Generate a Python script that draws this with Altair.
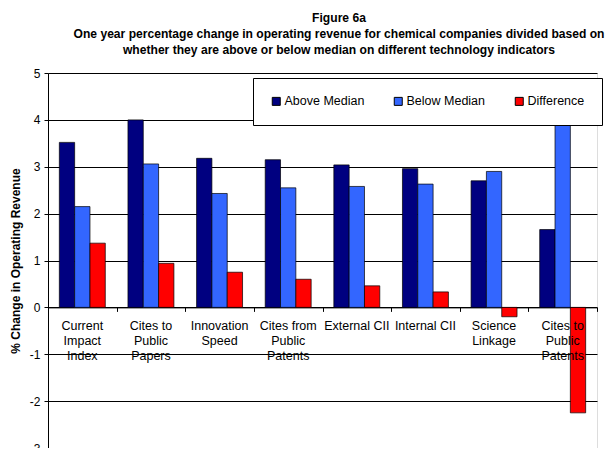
import altair as alt
import pandas as pd

categories = ["Current Impact Index", "Cites to Public Papers", "Innovation Speed",
              "Cites from Public Patents", "External CII", "Internal CII",
              "Science Linkage", "Cites to Public Patents"]
labels = ["Current|Impact|Index", "Cites to|Public|Papers", "Innovation|Speed",
          "Cites from|Public|Patents", "External CII", "Internal CII",
          "Science|Linkage", "Cites to|Public|Patents"]
series = ["Above Median", "Below Median", "Difference"]
above = [3.52, 4.00, 3.18, 3.15, 3.04, 2.96, 2.70, 1.66]
below = [2.15, 3.06, 2.43, 2.55, 2.58, 2.63, 2.90, 3.91]
diff = [1.37, 0.94, 0.75, 0.60, 0.46, 0.33, -0.20, -2.25]
colors = ["#000080", "#3366FF", "#FF0000"]
y_ticks = [-3, -2, -1, 0, 1, 2, 3, 4, 5]

rows = []
for i, c in enumerate(categories):
    for s, vals in zip(series, [above, below, diff]):
        rows.append({"Category": c, "Series": s, "Value": vals[i]})
df = pd.DataFrame(rows)
lab_df = pd.DataFrame({"Category": categories, "Label": labels})

FONT = "Liberation Sans"

x_enc = alt.X(
    "Category:N", sort=categories,
    scale=alt.Scale(paddingInner=0, paddingOuter=0),
    axis=alt.Axis(title=None, labels=False, tickBand="extent", offset=-140.625,
                  domainColor="black", tickColor="black", tickSize=4, grid=False),
)
y_scale = alt.Scale(domain=[-3, 5], nice=False, zero=False)

text_layer = alt.Chart(lab_df).mark_text(
    lineBreak="|", baseline="middle", dy=18.5, fontSize=12.5, lineHeight=15.3,
    font=FONT, color="black",
).encode(
    x=x_enc,
    y=alt.datum(0, scale=y_scale),
    text="Label:N",
)

bars = alt.Chart(df).mark_bar(stroke="black", strokeWidth=0.7).encode(
    x=x_enc,
    xOffset=alt.XOffset("Series:N", sort=series,
                        scale=alt.Scale(paddingOuter=0.74, paddingInner=0)),
    y=alt.Y("Value:Q", scale=y_scale,
            axis=alt.Axis(values=y_ticks, title="% Change in Operating Revenue",
                          grid=True, titleFontSize=12, titleFontWeight="bold",
                          titleColor="black", titleFont=FONT, labelFont=FONT,
                          labelFontSize=12, labelColor="black", tickSize=4,
                          tickColor="black", domainColor="black", gridColor="black",
                          gridWidth=1, gridOpacity=1, labelPadding=4, titlePadding=7,
                          labelExpr="datum.value + ''")),
    color=alt.Color("Series:N", sort=series,
                    scale=alt.Scale(domain=series, range=colors),
                    legend=alt.Legend(title=None, orient="none", legendX=205, legendY=5,
                                      direction="horizontal", fillColor="white",
                                      strokeColor="black", padding=17,
                                      symbolType="square", symbolSize=64,
                                      symbolStrokeColor="black", symbolStrokeWidth=1,
                                      symbolOpacity=1, labelFontSize=12.5,
                                      labelColor="black", labelFont=FONT,
                                      columnPadding=27, labelOffset=2)),
)

chart = alt.layer(bars, text_layer).properties(
    width=549, height=375,
    autosize=alt.AutoSizeParams(type="none"),
    padding={"left": 40, "top": 65, "right": 9, "bottom": 0},
    title=alt.TitleParams(
        text=["Figure 6a",
              "One year percentage change in operating revenue for chemical companies divided based on",
              "whether they are above or below median on different technology indicators"],
        fontSize=12.1, fontWeight="bold", anchor="middle", dx=16.5, lineHeight=16.2,
        offset=11, color="black", font=FONT,
    ),
).configure_view(stroke="#808080", strokeWidth=1).configure(background="white")

chart.save("out.html", embed_options={"renderer": "svg", "actions": False})
